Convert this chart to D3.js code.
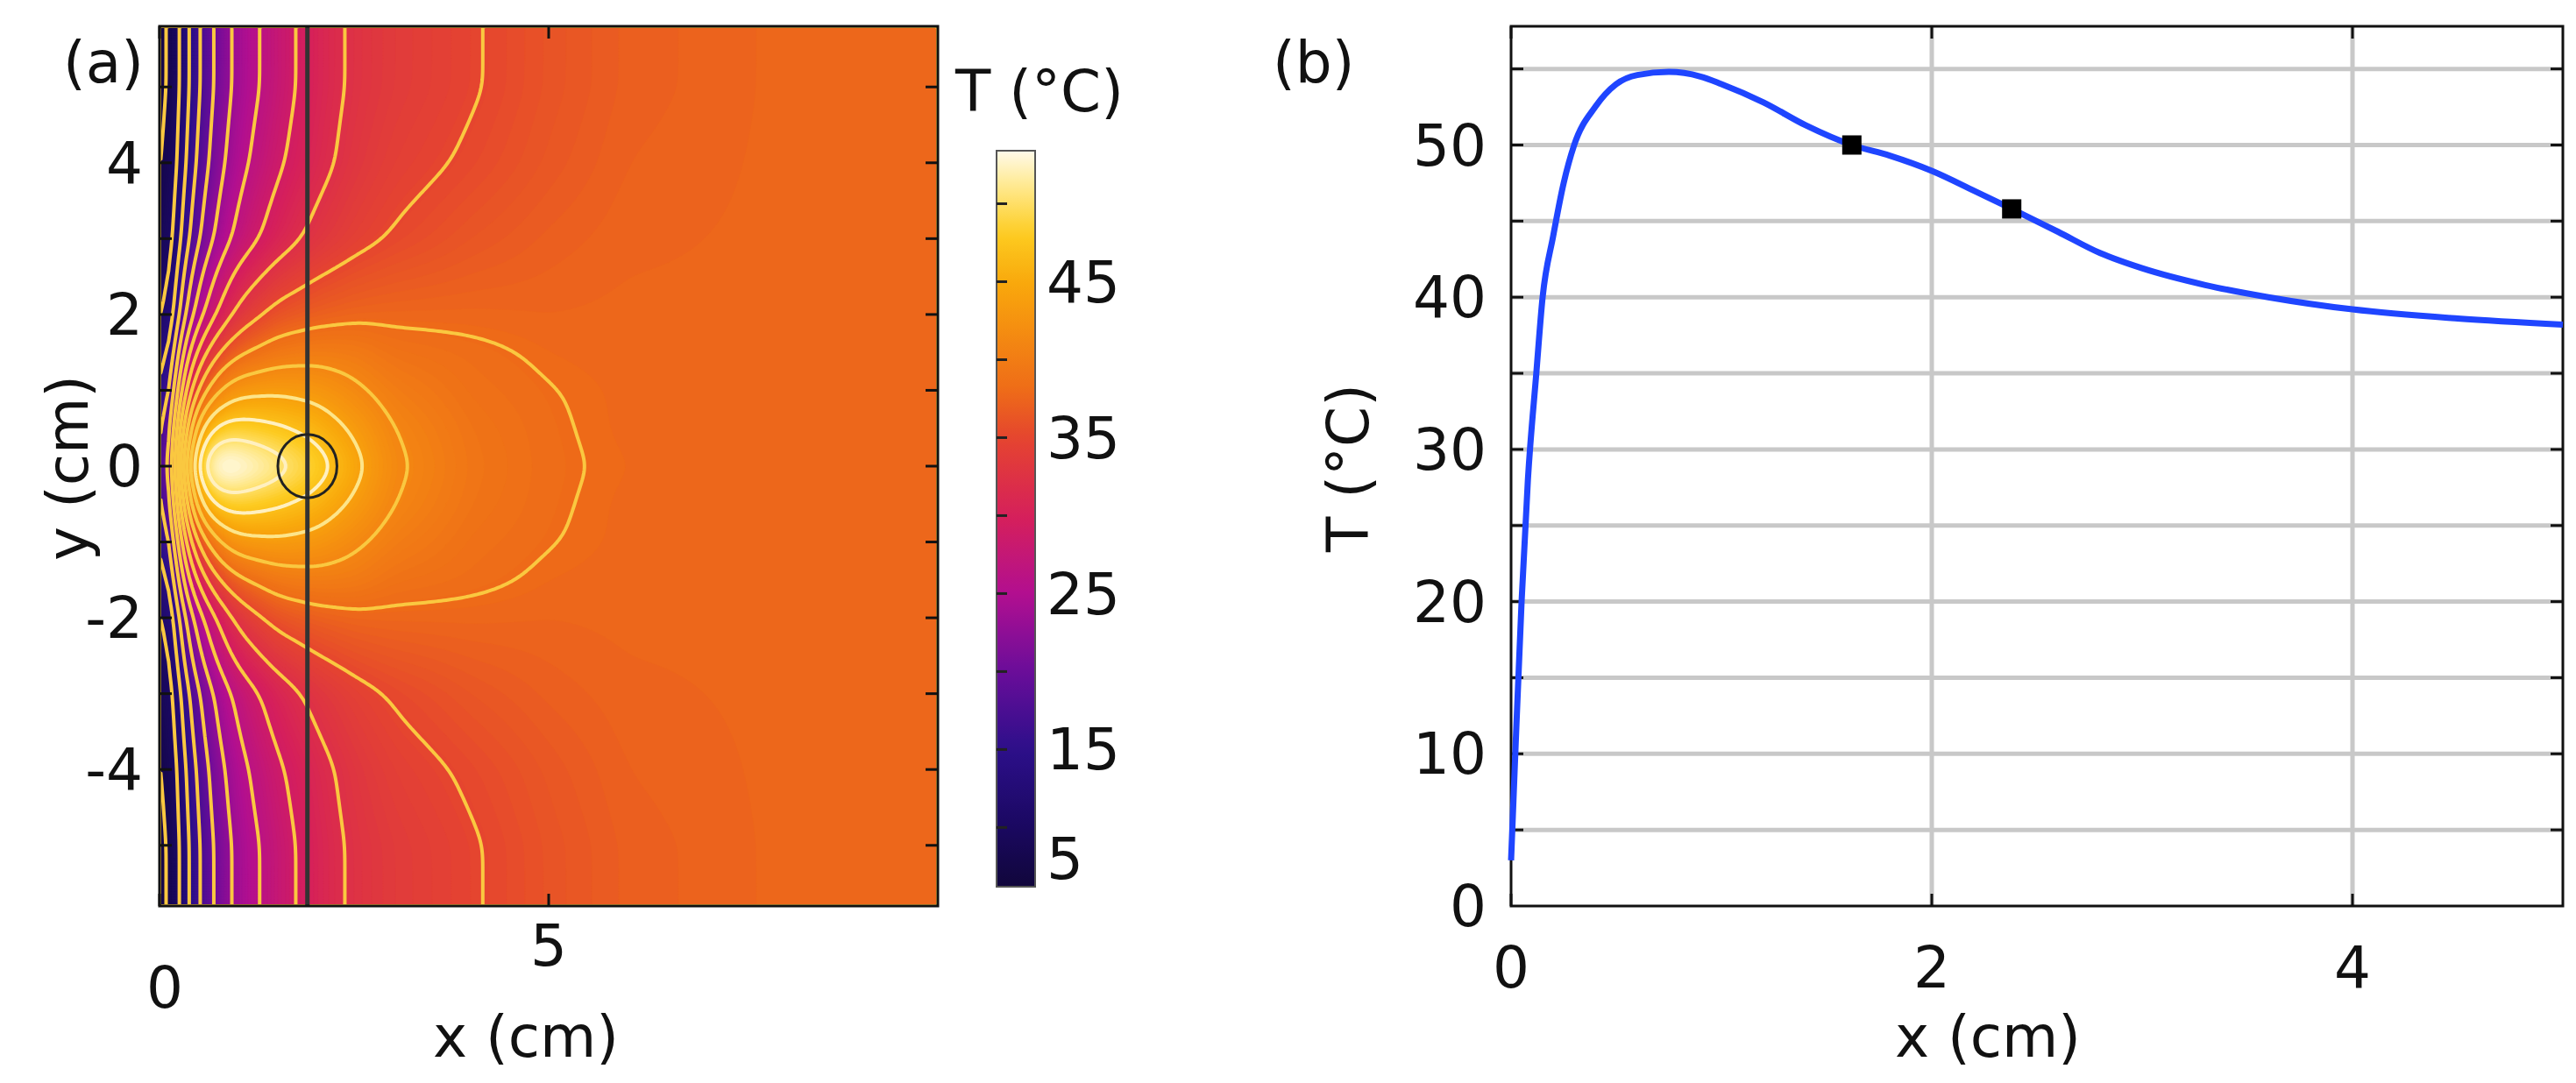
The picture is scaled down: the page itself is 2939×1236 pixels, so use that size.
<!DOCTYPE html>
<html><head><meta charset="utf-8">
<script src="https://cdn.jsdelivr.net/npm/d3@7"></script>
<style>body{margin:0;background:#fff}text{font-family:"DejaVu Sans",sans-serif;fill:#111}</style>
</head><body><svg id="c" width="2939" height="1236"></svg>
<script>
// ---------- data ----------
// Panel (a): temperature field, on a coarse grid (symmetric in y)
const gridX = [0, 0.25, 0.5, 0.75, 1, 1.5, 2, 2.5, 3, 4, 5, 6, 8, 10];
const gridAbsY = [0, 0.5, 1, 1.5, 2, 3, 4, 5, 5.8];
const fieldRows = [
  [3, 33, 50, 54.7, 54, 51.5, 48.7, 45, 41.5, 39.2, 38.2, 37.8, 37.6, 37.6],
  [4, 30, 44, 48, 48.5, 47.5, 46, 43.5, 41, 39, 38.15, 37.7, 37.6, 37.6],
  [4, 26, 36, 41, 43, 43.5, 43, 41.5, 40, 38.6, 38.05, 37.7, 37.6, 37.6],
  [4, 22, 30, 35, 37.5, 39.5, 40, 39.8, 38.8, 38.3, 37.8, 37.6, 37.6, 37.6],
  [4, 18, 25, 29.5, 33, 36, 37, 37.5, 37.6, 37.6, 37.5, 37.6, 37.6, 37.6],
  [4, 14, 20, 24, 27, 30.5, 32.8, 34.3, 35.2, 36.3, 37, 37.4, 37.6, 37.6],
  [4, 12, 18, 22, 25, 28.5, 31, 33, 34.2, 35.3, 36.4, 37.2, 37.6, 37.6],
  [4, 11, 17, 21, 24, 27.5, 30.5, 32.5, 33.6, 34.8, 36.1, 37, 37.6, 37.6],
  [4, 11, 17, 21, 24, 27.5, 30.5, 32.5, 33.6, 34.8, 36.1, 37, 37.6, 37.6]
];
const contourLevels = d3.range(5, 56, 3);
const probeX = 1.9, probeR = 0.38;
const xTicksA = [0, 5], yTicksA = [-4, -2, 0, 2, 4];
const cbarTicks = [45, 35, 25, 15, 5];
const cmapStops = [3.5, 10, 15, 20, 25, 30, 35, 38, 42, 45, 48, 51, 53.5];
const cmapColors = ['#0a0520','#1a0860','#2c0f8a','#6a0d9a','#b20f90','#d6205a','#e5452f','#ee6b18','#f58e10','#f9a90c','#fdcb20','#ffe88a','#fffbee'];
// Panel (b): T along y = 0
const profX = [0, 0.02, 0.05, 0.08, 0.12, 0.15, 0.2, 0.25, 0.3, 0.4, 0.5, 0.6, 0.75, 0.9, 1.0, 1.2, 1.4, 1.62, 1.8, 2.0, 2.2, 2.38, 2.6, 2.8, 3.0, 3.3, 3.6, 4.0, 4.5, 5.0];
const profT = [3, 10, 20, 28, 35, 40, 44, 47.5, 50, 52.5, 54, 54.6, 54.8, 54.5, 54, 52.8, 51.3, 50, 49.3, 48.3, 47, 45.8, 44.3, 42.9, 41.9, 40.8, 40, 39.2, 38.6, 38.2];
const markerX = [1.62, 2.38], markerT = [50, 45.8];
const xTicksB = [0, 2, 4], yTicksB = [0, 10, 20, 30, 40, 50];

// ---------- setup ----------
const svg = d3.select('#c');
const FS = 66;
const A = {l:182, r:1070, t:30, b:1034};
const xa = d3.scaleLinear().domain([0, 10]).range([A.l, A.r]);
const ya = d3.scaleLinear().domain([-5.8, 5.8]).range([A.b, A.t]);
const cmap = d3.scaleLinear().domain(cmapStops).range(cmapColors).clamp(true);

function field(x, y) {
  const ay = Math.abs(y);
  const i = Math.max(0, Math.min(gridX.length - 2, d3.bisectRight(gridX, x) - 1));
  const j = Math.max(0, Math.min(gridAbsY.length - 2, d3.bisectRight(gridAbsY, ay) - 1));
  const tx = Math.max(0, Math.min(1, (x - gridX[i]) / (gridX[i+1] - gridX[i])));
  const ty = Math.max(0, Math.min(1, (ay - gridAbsY[j]) / (gridAbsY[j+1] - gridAbsY[j])));
  const v00 = fieldRows[j][i], v01 = fieldRows[j][i+1], v10 = fieldRows[j+1][i], v11 = fieldRows[j+1][i+1];
  return (v00*(1-tx)+v01*tx)*(1-ty) + (v10*(1-tx)+v11*tx)*ty;
}
const nx = 300, ny = 340;
const vals = new Array(nx*ny);
for (let r = 0; r < ny; r++) for (let c = 0; c < nx; c++) {
  const x = (c + 0.5) / nx * 10, y = 5.8 - (r + 0.5) / ny * 11.6;
  vals[r*nx + c] = field(x, y);
}
const sm = vals.slice();
for (let pass = 0; pass < 4; pass++) {
  const src = sm.slice();
  for (let r = 0; r < ny; r++) for (let c = 0; c < nx; c++) {
    let s = 0, n = 0;
    for (let dr = -3; dr <= 3; dr++) for (let dc = -3; dc <= 3; dc++) {
      const rr = r+dr, cc = c+dc;
      if (rr>=0 && rr<ny && cc>=0 && cc<nx) { s += src[rr*nx+cc]; n++; }
    }
    sm[r*nx+c] = s/n;
  }
}
const proj = d3.geoTransform({point: function(gx, gy) {
  this.stream.point(A.l + gx/nx*(A.r-A.l), A.t + gy/ny*(A.b-A.t));
}});
const gpath = d3.geoPath(proj);

svg.append('clipPath').attr('id','clipA').append('rect')
  .attr('x',A.l).attr('y',A.t).attr('width',A.r-A.l).attr('height',A.b-A.t);
const ga = svg.append('g').attr('clip-path','url(#clipA)');
const fillLevels = d3.range(0, 56, 0.3);
ga.selectAll('path.f').data(d3.contours().size([nx, ny]).thresholds(fillLevels)(sm))
  .join('path').attr('d', gpath).attr('fill', d => cmap(d.value + 0.15)).attr('stroke', d => cmap(d.value + 0.15)).attr('stroke-width', 0.6);
ga.selectAll('path.l').data(d3.contours().size([nx, ny]).thresholds(contourLevels)(sm))
  .join('path').attr('d', gpath).attr('fill', 'none')
  .attr('stroke', d => d.value >= 47 ? '#fff0c0' : (d.value >= 44 ? '#fde58a' : '#fac840'))
  .attr('stroke-width', 4);
ga.append('line').attr('x1', xa(probeX)).attr('x2', xa(probeX)).attr('y1', A.t).attr('y2', A.b)
  .attr('stroke', '#333').attr('stroke-width', 5);
ga.append('ellipse').attr('cx', xa(probeX)).attr('cy', ya(0))
  .attr('rx', xa(probeR) - xa(0)).attr('ry', ya(0) - ya(probeR*1.1))
  .attr('fill', 'none').attr('stroke', '#222').attr('stroke-width', 3);
svg.append('rect').attr('x',A.l).attr('y',A.t).attr('width',A.r-A.l).attr('height',A.b-A.t)
  .attr('fill','none').attr('stroke','#111').attr('stroke-width',3);
d3.range(-5, 6, 1).forEach(v => {
  [A.l, A.r].forEach((x0, k) => svg.append('line').attr('x1', x0).attr('x2', x0 + (k ? -14 : 14))
    .attr('y1', ya(v)).attr('y2', ya(v)).attr('stroke', '#111').attr('stroke-width', 3));
});
xTicksA.forEach(v => [A.t, A.b].forEach((y0, k) => svg.append('line').attr('x1', xa(v)).attr('x2', xa(v))
  .attr('y1', y0).attr('y2', y0 + (k ? -14 : 14)).attr('stroke', '#111').attr('stroke-width', 3)));
yTicksA.forEach(v => svg.append('text').attr('x', 163).attr('y', ya(v)).attr('dy', '0.35em')
  .attr('text-anchor', 'end').attr('font-size', FS).text(v));
svg.append('text').attr('x', xa(0) + 6).attr('y', 1150).attr('text-anchor', 'middle').attr('font-size', FS).text(xTicksA[0]);
svg.append('text').attr('x', xa(5)).attr('y', 1102).attr('text-anchor', 'middle').attr('font-size', FS).text(xTicksA[1]);
svg.append('text').attr('x', 600).attr('y', 1206).attr('text-anchor', 'middle').attr('font-size', FS).text('x (cm)');
svg.append('text').attr('transform', 'translate(100,534) rotate(-90)').attr('text-anchor', 'middle').attr('font-size', FS).text('y (cm)');
svg.append('text').attr('x', 72).attr('y', 94).attr('font-size', FS).text('(a)');

const CB = {l:1137, r:1181, t:172, b:1012};
const cy = d3.scaleLinear().domain([6.2, 53.4]).range([CB.b, CB.t]);
const grad = svg.append('defs').append('linearGradient').attr('id','cg').attr('x1',0).attr('x2',0).attr('y1',1).attr('y2',0);
d3.range(0, 1.0001, 0.02).forEach(t => grad.append('stop').attr('offset', t).attr('stop-color', cmap(6.2 + t*(53.4-6.2))));
svg.append('rect').attr('x',CB.l).attr('y',CB.t).attr('width',CB.r-CB.l).attr('height',CB.b-CB.t)
  .attr('fill','url(#cg)').attr('stroke','#555').attr('stroke-width',2);
d3.range(10, 55, 5).forEach(v => svg.append('line').attr('x1', CB.l).attr('x2', CB.l + 12)
  .attr('y1', cy(v)).attr('y2', cy(v)).attr('stroke', '#222').attr('stroke-width', 3));
cbarTicks.forEach(v => svg.append('text').attr('x', 1194).attr('y', Math.min(cy(v), 980)).attr('dy', '0.35em')
  .attr('font-size', FS).text(v));
svg.append('text').attr('x', 1090).attr('y', 127).attr('font-size', FS).text('T (°C)');

const B = {l:1724, r:2924, t:30, b:1034};
const xb = d3.scaleLinear().domain([0, 5]).range([B.l, B.r]);
const yb = d3.scaleLinear().domain([0, 57.8]).range([B.b, B.t]);
d3.range(5, 56, 5).forEach(v => svg.append('line').attr('x1', B.l).attr('x2', B.r)
  .attr('y1', yb(v)).attr('y2', yb(v)).attr('stroke', '#c8c8c8').attr('stroke-width', 5));
xTicksB.slice(1).forEach(v => svg.append('line').attr('x1', xb(v)).attr('x2', xb(v))
  .attr('y1', B.t).attr('y2', B.b).attr('stroke', '#c8c8c8').attr('stroke-width', 5));
d3.range(5, 56, 5).forEach(v => [B.l, B.r].forEach((x0, k) => svg.append('line').attr('x1', x0).attr('x2', x0 + (k ? -14 : 14))
  .attr('y1', yb(v)).attr('y2', yb(v)).attr('stroke', '#111').attr('stroke-width', 3)));
xTicksB.forEach(v => [B.t, B.b].forEach((y0, k) => svg.append('line').attr('x1', xb(v)).attr('x2', xb(v))
  .attr('y1', y0).attr('y2', y0 + (k ? -14 : 14)).attr('stroke', '#111').attr('stroke-width', 3)));
svg.append('rect').attr('x',B.l).attr('y',B.t).attr('width',B.r-B.l).attr('height',B.b-B.t)
  .attr('fill','none').attr('stroke','#111').attr('stroke-width',3);
const line = d3.line().x((d, i) => xb(profX[i])).y((d, i) => yb(profT[i])).curve(d3.curveMonotoneX);
svg.append('path').attr('d', line(profX)).attr('fill', 'none').attr('stroke', '#1f45ff').attr('stroke-width', 7);
markerX.forEach((v, i) => svg.append('rect').attr('x', xb(v) - 11).attr('y', yb(markerT[i]) - 11)
  .attr('width', 22).attr('height', 22).attr('fill', '#000'));
yTicksB.forEach(v => svg.append('text').attr('x', 1696).attr('y', yb(v)).attr('dy', '0.35em')
  .attr('text-anchor', 'end').attr('font-size', FS).text(v));
xTicksB.forEach(v => svg.append('text').attr('x', xb(v)).attr('y', 1127).attr('text-anchor', 'middle')
  .attr('font-size', FS).text(v));
svg.append('text').attr('x', 2268).attr('y', 1206).attr('text-anchor', 'middle').attr('font-size', FS).text('x (cm)');
svg.append('text').attr('transform', 'translate(1561,534) rotate(-90)').attr('text-anchor', 'middle').attr('font-size', FS).text('T (°C)');
svg.append('text').attr('x', 1452).attr('y', 94).attr('font-size', FS).text('(b)');
</script></body></html>
